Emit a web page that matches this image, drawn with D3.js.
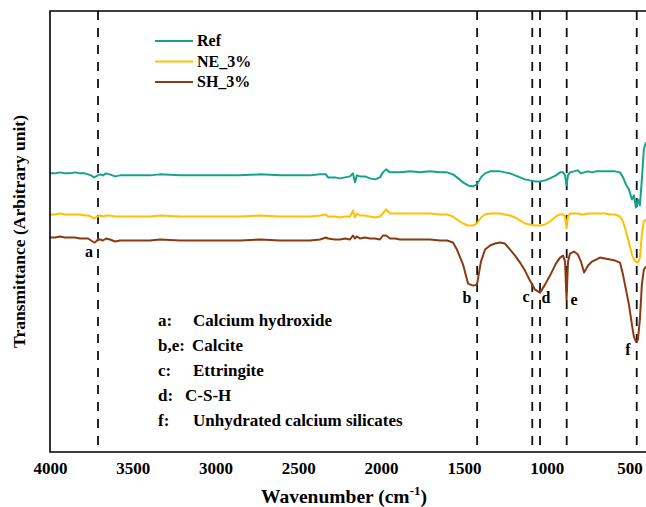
<!DOCTYPE html>
<html>
<head>
<meta charset="utf-8">
<script src="https://cdn.jsdelivr.net/npm/d3@7"></script>
<style>
  body { margin: 0; background: #fff; }
  svg text { font-family: "Liberation Serif", "Times New Roman", serif; font-weight: bold; fill: #000; }
</style>
</head>
<body>
<svg id="chart" width="646" height="507"></svg>
<script>
// FTIR spectra (transmittance, arbitrary units, stacked) against wavenumber (cm^-1)
const wavenumbers = [4000,3970,3940,3909,3879,3849,3819,3789,3770,3752,
  3734,3722,3710,3698,3680,3662,3638,3607,3577,3517,
  3456,3396,3336,3215,3094,2973,2852,2731,2610,2490,
  2430,2369,2333,2321,2279,2248,2218,2188,2170,2158,
  2146,2128,2097,2067,2037,2007,1989,1970,1946,1916,
  1886,1825,1765,1705,1644,1602,1566,1542,1505,1475,
  1445,1421,1397,1372,1342,1312,1282,1252,1221,1191,
  1161,1131,1101,1070,1040,1010,980,944,919,901,
  889,880,871,859,835,811,793,774,750,726,
  702,678,648,617,587,557,539,521,503,485,
  473,461,449,437,425,413,400];

const refValues = [69.5,69.5,69.75,69.5,69.5,69.75,69.5,69.5,69.25,69,
  68.5,68.75,69,69.25,69,69.5,69.25,68.75,69,69,
  69,69,69.25,69,69,69,69,69.25,69,69,
  69,69.25,69.25,68.5,68.5,68.25,68.5,68.75,69.5,67.25,
  69,68.75,68.75,68.25,68,68.5,69.75,70.5,69.75,69.75,
  69.75,70,69.75,70,69.75,69.75,69.25,68.5,67.25,66.5,
  66.25,66.75,68.5,69.5,70,70,70,69.75,69.5,69,
  68.5,68,67.75,67.5,67.5,67.75,68.25,69,69.75,69.75,
  69,66.5,69,69.75,70,70.25,69.5,69.75,70,69.75,
  70,70,70,70,70,69.75,68.5,66.75,65.5,63,
  64,61,63,61.5,68,75.5,77.25];

const ne3Values = [59.25,59.25,59.5,59.25,59.25,59.25,59.25,59,59,58.75,
  58.25,58.5,58.75,59,58.75,59,59,58.75,58.75,58.75,
  58.75,58.75,59,58.75,58.75,58.75,58.75,59,58.75,58.75,
  58.75,59,59.25,58.75,58.75,58.5,58.75,58.75,60.25,58.5,
  59.5,59,59,58.75,58.5,58.75,59.5,60.5,59.5,59.5,
  59.5,59.5,59.5,59.5,59.25,59.25,58.75,58,57,56.5,
  56.5,57,58.5,59.25,59.5,59.5,59.5,59.25,59,58.5,
  57.75,57,56.75,56.5,56.5,56.75,57.5,58.75,59.25,59.25,
  58.75,55.75,58.75,59.5,59.5,59.5,59.25,59.25,59.5,59.5,
  59.5,59.5,59.5,59.25,59.25,58.75,57.5,55,52.25,49.25,
  48,47.5,47.25,48.5,54.25,57.5,58];

const sh3Values = [53.5,53.5,53.75,53.5,53.5,53.5,53.25,53.25,53.25,52.75,
  52.25,52.5,53,53,52.75,53.25,53,52.5,52.75,52.75,
  52.75,52.75,53,52.75,52.75,52.75,52.75,53,52.75,52.75,
  52.75,53,53.5,53.25,53,53,53.25,53,54,53.25,
  53.75,53.25,53.5,53.25,53.25,53,54,54,53.25,53.25,
  53,53,53,53,52.75,52.75,52.25,50.5,46.75,42,
  41.5,41.75,47.5,50.5,51.5,52,52.25,52,50.5,49,
  47.25,45.25,42.75,40.5,39.75,41.75,44,47,48.5,49,
  47.5,38,47.5,49.5,50,49.25,47.5,44.75,46.5,47.5,
  48,48.5,48.25,48,47.75,47.25,44.25,40.5,36.75,31.75,
  28.75,27.5,28,33,41.75,45.5,46.25];

const seriesNames = ["Ref", "NE_3%", "SH_3%"];
const seriesColors = ["#16a38b", "#ffc000", "#8a3a12"];
const seriesValues = [refValues, ne3Values, sh3Values];

const xTicks = [4000, 3500, 3000, 2500, 2000, 1500, 1000, 500];

// Band positions marked with dashed lines, and their letters
const bandPositions = [3710, 1420, 1087, 1040, 879, 456];
const bandLetters = ["a", "b", "c", "d", "e", "f"];
const bandLetterWn = [3765, 1481, 1125, 1004, 835, 509];
const bandLetterValue = [48.75, 37.25, 37.5, 37.25, 36.75, 24.25];

// Band assignments
const assignmentKeys = ["a:", "b,e:", "c:", "d:", "f:"];
const assignmentNames = ["Calcium hydroxide", "Calcite", "Ettringite", "C-S-H", "Unhydrated calcium silicates"];

const plot = { left: 50, top: 11, right: 646, bottom: 452 };

const svg = d3.select("#chart");

const x = d3.scaleLinear().domain([4000, 400]).range([plot.left, plot.right]);
const y = d3.scaleLinear().domain([0, 110]).range([plot.bottom, plot.top]);

// Dashed band markers
svg.append("g").selectAll("line").data(bandPositions).join("line")
  .attr("x1", d => x(d)).attr("x2", d => x(d))
  .attr("y1", plot.top).attr("y2", plot.bottom)
  .attr("stroke", "#111").attr("stroke-width", 1.8)
  .attr("stroke-dasharray", "9,8");

// Spectra
const line = d3.line().x(d => x(d[0])).y(d => y(d[1]));
seriesValues.forEach((vals, i) => {
  svg.append("path")
    .datum(wavenumbers.map((w, k) => [w, vals[k]]))
    .attr("d", line)
    .attr("fill", "none")
    .attr("stroke", seriesColors[i])
    .attr("stroke-width", 2)
    .attr("stroke-linejoin", "round");
});

// Frame (top, left, bottom)
svg.append("path")
  .attr("d", `M${plot.right},${plot.top}H${plot.left}V${plot.bottom}H${plot.right}`)
  .attr("fill", "none").attr("stroke", "#000").attr("stroke-width", 1.6);

// X axis tick labels
const xAxis = d3.axisBottom(x).tickValues(xTicks).tickSize(0).tickPadding(10).tickFormat(d3.format("d"));
const gx = svg.append("g").attr("transform", `translate(0,${plot.bottom})`).call(xAxis);
gx.select(".domain").remove();
gx.selectAll("text").style("font-size", "17px")
  .style("font-family", '"Liberation Serif", "Times New Roman", serif')
  .style("font-weight", "bold").attr("fill", "#000");

// Axis titles
const xt = svg.append("text")
  .attr("x", 344).attr("y", 503)
  .attr("text-anchor", "middle").style("font-size", "19.5px");
xt.append("tspan").text("Wavenumber (cm");
xt.append("tspan").attr("dy", -8).style("font-size", "13px").text("-1");
xt.append("tspan").attr("dy", 8).text(")");

svg.append("text")
  .attr("transform", `translate(25,${(plot.top + plot.bottom) / 2}) rotate(-90)`)
  .attr("text-anchor", "middle").style("font-size", "17.5px")
  .text("Transmittance (Arbitrary unit)");

// Band letters
svg.append("g").selectAll("text").data(bandLetters).join("text")
  .attr("x", (d, i) => x(bandLetterWn[i]))
  .attr("y", (d, i) => y(bandLetterValue[i]))
  .attr("text-anchor", "middle").style("font-size", "16px")
  .text(d => d);

// Legend
const legend = svg.append("g");
seriesNames.forEach((name, i) => {
  const ly = 41 + i * 20.5;
  legend.append("line").attr("x1", 155).attr("x2", 193).attr("y1", ly).attr("y2", ly)
    .attr("stroke", seriesColors[i]).attr("stroke-width", 2);
  legend.append("text").attr("x", 197).attr("y", ly + 5)
    .style("font-size", "16px").text(name);
});

// Assignment list
const nameX = [193, 192, 193, 185, 193];
assignmentKeys.forEach((k, i) => {
  const ty = 326 + i * 25;
  svg.append("text").attr("x", 158).attr("y", ty).style("font-size", "17px").text(k);
  svg.append("text").attr("x", nameX[i]).attr("y", ty).style("font-size", "17px").text(assignmentNames[i]);
});
</script>
</body>
</html>
